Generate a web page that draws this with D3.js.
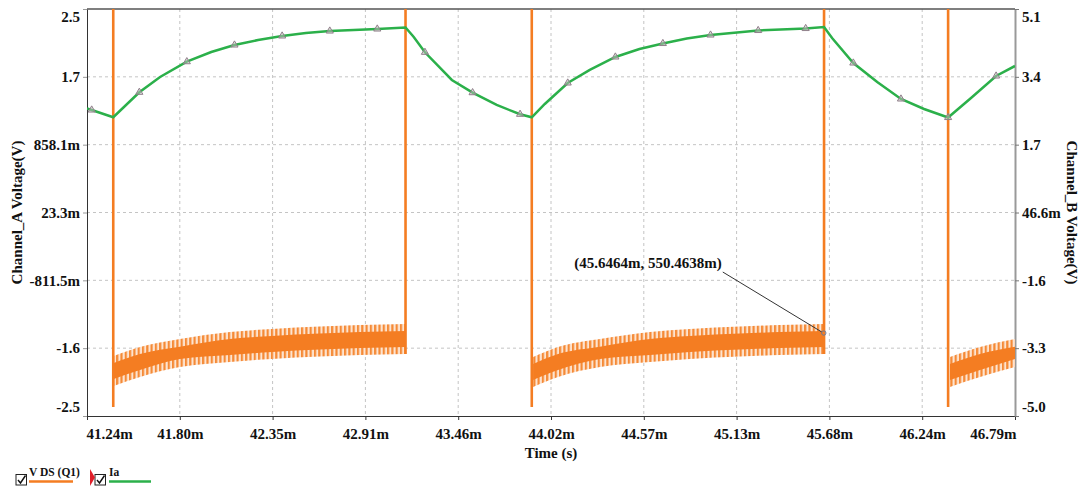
<!DOCTYPE html>
<html>
<head>
<meta charset="utf-8">
<script src="https://cdn.jsdelivr.net/npm/d3@7/dist/d3.min.js"></script>
<style>
body { margin: 0; background: #fff; }
text { font-family: "Liberation Serif", "Times New Roman", serif; font-weight: bold; fill: #111; }
</style>
</head>
<body>
<svg id="chart" width="1083" height="490"></svg>
<script>
// time axis, in ms
var xTicks = [41.24, 41.795, 42.35, 42.905, 43.46, 44.015, 44.57, 45.125, 45.68, 46.235, 46.79];
var xLabels = ["41.24m", "41.80m", "42.35m", "42.91m", "43.46m", "44.02m", "44.57m", "45.13m", "45.68m", "46.24m", "46.79m"];

// Channel_A (left)
var aTicks = [2.5277, 1.6929, 0.8581, 0.0233, -0.8115, -1.6463, -2.4811];
var aLabels = ["2.5", "1.7", "858.1m", "23.3m", "-811.5m", "-1.6", "-2.5"];

// Channel_B (right)
var bTicks = [5.087, 3.407, 1.727, 0.0466, -1.633, -3.313, -4.993];
var bLabels = ["5.1", "3.4", "1.7", "46.6m", "-1.6", "-3.3", "-5.0"];

// Ia, on Channel_B
var iaTime = [41.24, 41.268, 41.397, 41.553, 41.677, 41.837, 41.983, 42.122, 42.263, 42.407, 42.549, 42.692,
    42.835, 42.976, 43.145, 43.193, 43.261, 43.422, 43.546, 43.690, 43.830, 43.900, 43.978, 44.115, 44.247,
    44.400, 44.544, 44.684, 44.827, 44.969, 45.254, 45.538, 45.648, 45.696, 45.823, 45.966, 46.108, 46.246,
    46.390, 46.527, 46.677, 46.79];
var iaValue = [2.623, 2.586, 2.406, 3.025, 3.403, 3.782, 4.022, 4.196, 4.319, 4.419, 4.493, 4.542,
    4.567, 4.592, 4.629, 4.401, 4.015, 3.329, 3.015, 2.710, 2.480, 2.406, 2.735, 3.255, 3.577,
    3.899, 4.097, 4.233, 4.357, 4.443, 4.555, 4.604, 4.641, 4.369, 3.750, 3.280, 2.859, 2.611,
    2.400, 2.883, 3.428, 3.676];
var iaMarkTime = [41.268, 41.553, 41.837, 42.122, 42.407, 42.692, 42.976, 43.261, 43.546, 43.830, 44.115,
    44.400, 44.684, 44.969, 45.254, 45.538, 45.823, 46.108, 46.390, 46.677];

// V DS (Q1), on Channel_A: switching edges and the ringing band (outer tips + dense core)
var vdsOff = 2.8;
var vdsEdgeTime = [41.397, 43.145, 43.900, 45.648, 46.390];
var vdsEdgeLow = [-2.37, -1.718, -2.37, -1.718, -2.37];

var vdsT1 = [41.400, 41.557, 41.796, 42.095, 42.346, 42.633, 42.873, 43.145];
var vdsHi1 = [-1.743, -1.632, -1.534, -1.447, -1.410, -1.380, -1.362, -1.349];
var vdsLo1 = [-2.112, -2.001, -1.879, -1.816, -1.779, -1.749, -1.731, -1.718];
var vdsCoreHi1 = [-1.829, -1.718, -1.628, -1.533, -1.496, -1.466, -1.448, -1.435];
var vdsCoreLo1 = [-2.026, -1.915, -1.780, -1.730, -1.693, -1.663, -1.645, -1.632];

var vdsT2 = [43.908, 44.057, 44.308, 44.607, 44.846, 45.145, 45.384, 45.648];
var vdsHi2 = [-1.755, -1.632, -1.534, -1.447, -1.410, -1.380, -1.362, -1.349];
var vdsLo2 = [-2.124, -2.001, -1.879, -1.816, -1.779, -1.749, -1.731, -1.718];
var vdsCoreHi2 = [-1.841, -1.718, -1.628, -1.533, -1.496, -1.466, -1.448, -1.435];
var vdsCoreLo2 = [-2.038, -1.915, -1.780, -1.730, -1.693, -1.663, -1.645, -1.632];

var vdsT3 = [46.401, 46.581, 46.79];
var vdsHi3 = [-1.755, -1.632, -1.534];
var vdsLo3 = [-2.124, -2.001, -1.879];
var vdsCoreHi3 = [-1.841, -1.718, -1.628];
var vdsCoreLo3 = [-2.038, -1.915, -1.780];

var cursorTime = 45.6464, cursorValue = -1.46, cursorText = "(45.6464m, 550.4638m)";

var orange = "#f47d22", green = "#2bb04a";
var fs = 15;

var svg = d3.select("#chart");
var plotL = 87, plotR = 1015, plotT = 9, plotB = 416;

var x = d3.scaleLinear().domain([41.24, 46.79]).range([plotL, plotR]);
var yA = d3.scaleLinear().domain([-2.4811, 2.5277]).range([plotB, plotT]);
var yB = d3.scaleLinear().domain([-4.993, 5.087]).range([plotB, plotT]);

var defs = svg.append("defs");
defs.append("clipPath").attr("id", "plot")
    .append("rect").attr("x", plotL).attr("y", plotT).attr("width", plotR - plotL).attr("height", plotB - plotT);

var pat = defs.append("pattern").attr("id", "ring")
    .attr("patternUnits", "userSpaceOnUse").attr("width", 4.3).attr("height", 20);
pat.append("rect").attr("width", 4.3).attr("height", 20).attr("fill", "#fde4d0");
pat.append("rect").attr("width", 2.2).attr("height", 20).attr("fill", "#f58a36");

// grid
svg.append("g").selectAll("line")
    .data(xTicks.slice(1, -1))
    .enter().append("line")
    .attr("x1", function(d) { return x(d); }).attr("x2", function(d) { return x(d); })
    .attr("y1", plotT).attr("y2", plotB)
    .attr("stroke", "#c4c4c4").attr("stroke-dasharray", "3,3");

svg.append("g").selectAll("line")
    .data(aTicks.slice(1, -1))
    .enter().append("line")
    .attr("x1", plotL).attr("x2", plotR)
    .attr("y1", function(d) { return yA(d); }).attr("y2", function(d) { return yA(d); })
    .attr("stroke", "#c4c4c4").attr("stroke-dasharray", "3,3");

// axes
function styleAxis(g) {
    g.attr("font-family", null).attr("font-size", fs).attr("font-weight", "bold");
}

var gx = svg.append("g")
    .attr("transform", "translate(0," + plotB + ")")
    .call(d3.axisBottom(x).tickValues(xTicks).tickSizeInner(4).tickSizeOuter(0).tickPadding(8)
        .tickFormat(function(d, i) { return xLabels[i]; }))
    .call(styleAxis);
gx.select(".domain").attr("stroke", "#333");
gx.selectAll(".tick line").attr("stroke", "#333");
gx.selectAll(".tick text").attr("text-anchor", function(d, i) {
    return i == 0 ? "start" : (i == xTicks.length - 1 ? "end" : "middle");
}).attr("x", function(d, i) { return i == 0 ? -1 : (i == xTicks.length - 1 ? 1 : 0); });

var ga = svg.append("g")
    .attr("transform", "translate(" + plotL + ",0)")
    .call(d3.axisLeft(yA).tickValues(aTicks).tickSizeInner(4).tickSizeOuter(0).tickPadding(3)
        .tickFormat(function(d, i) { return aLabels[i]; }))
    .call(styleAxis);
ga.select(".domain").attr("stroke", "#333");
ga.selectAll(".tick line").attr("stroke", "#999");

var gb = svg.append("g")
    .attr("transform", "translate(" + plotR + ",0)")
    .call(d3.axisRight(yB).tickValues(bTicks).tickSizeInner(4).tickSizeOuter(0).tickPadding(3)
        .tickFormat(function(d, i) { return bLabels[i]; }))
    .call(styleAxis);
gb.select(".domain").attr("stroke", "#999").attr("stroke-width", 2);
gb.selectAll(".tick line").attr("stroke", "#777");

[ga, gb].forEach(function(g) {
    g.selectAll(".tick text").attr("y", function(d, i) { return i == 0 ? 8 : (i == 6 ? -9 : 0); });
});

// top border
svg.append("line").attr("x1", plotL).attr("x2", plotR).attr("y1", plotT).attr("y2", plotT)
    .attr("stroke", "#555").attr("stroke-width", 1.5);

// V DS (Q1)
var plot = svg.append("g").attr("clip-path", "url(#plot)");

var bands = [
    { t: vdsT1, hi: vdsHi1, lo: vdsLo1, chi: vdsCoreHi1, clo: vdsCoreLo1 },
    { t: vdsT2, hi: vdsHi2, lo: vdsLo2, chi: vdsCoreHi2, clo: vdsCoreLo2 },
    { t: vdsT3, hi: vdsHi3, lo: vdsLo3, chi: vdsCoreHi3, clo: vdsCoreLo3 }
];

bands.forEach(function(b) {
    var outer = d3.area().curve(d3.curveMonotoneX)
        .x(function(d, i) { return x(b.t[i]); })
        .y0(function(d, i) { return yA(b.lo[i]); })
        .y1(function(d, i) { return yA(b.hi[i]); });
    var core = d3.area().curve(d3.curveMonotoneX)
        .x(function(d, i) { return x(b.t[i]); })
        .y0(function(d, i) { return yA(b.clo[i]); })
        .y1(function(d, i) { return yA(b.chi[i]); });
    plot.append("path").attr("d", outer(b.t)).attr("fill", "url(#ring)");
    plot.append("path").attr("d", core(b.t)).attr("fill", orange);
});

plot.selectAll(".edge")
    .data(vdsEdgeTime)
    .enter().append("line")
    .attr("class", "edge")
    .attr("x1", function(d) { return x(d); }).attr("x2", function(d) { return x(d); })
    .attr("y1", yA(vdsOff))
    .attr("y2", function(d, i) { return yA(vdsEdgeLow[i]); })
    .attr("stroke", orange).attr("stroke-width", 2.6);

// Ia
var iaLine = d3.line()
    .x(function(d, i) { return x(iaTime[i]); })
    .y(function(d, i) { return yB(iaValue[i]); });

plot.append("path")
    .attr("d", iaLine(iaTime))
    .attr("fill", "none").attr("stroke", green).attr("stroke-width", 2.5);

var tri = d3.symbol().type(d3.symbolTriangle).size(22);
plot.selectAll(".mark")
    .data(iaMarkTime)
    .enter().append("path")
    .attr("class", "mark")
    .attr("d", tri)
    .attr("transform", function(d) {
        var i = iaTime.indexOf(d);
        return "translate(" + x(d) + "," + yB(iaValue[i]) + ")";
    })
    .attr("fill", "#c8b9c0").attr("fill-opacity", 0.5)
    .attr("stroke", "#8f7f8a").attr("stroke-width", 1);

// cursor readout
var cx = x(cursorTime), cy = yA(cursorValue);
svg.append("line")
    .attr("x1", cx - 101).attr("y1", cy - 61).attr("x2", cx - 2).attr("y2", cy - 1)
    .attr("stroke", "#333").attr("stroke-width", 1);
svg.append("circle").attr("cx", cx).attr("cy", cy).attr("r", 2.2)
    .attr("fill", "none").attr("stroke", "#6b7a99").attr("stroke-width", 1);
svg.append("text")
    .attr("x", cx - 102).attr("y", cy - 65)
    .attr("text-anchor", "end").attr("font-size", fs)
    .text(cursorText);

// titles
svg.append("text")
    .attr("transform", "translate(22," + ((plotT + plotB) / 2) + ") rotate(-90)")
    .attr("text-anchor", "middle").attr("font-size", fs)
    .text("Channel_A Voltage(V)");
svg.append("text")
    .attr("transform", "translate(1067," + ((plotT + plotB) / 2) + ") rotate(90)")
    .attr("text-anchor", "middle").attr("font-size", fs)
    .text("Channel_B Voltage(V)");
svg.append("text")
    .attr("x", (plotL + plotR) / 2).attr("y", 458)
    .attr("text-anchor", "middle").attr("font-size", fs)
    .text("Time (s)");

// legend
var legend = [
    { name: "V DS (Q1)", color: orange, bx: 16, tx: 29, w: 44 },
    { name: "Ia", color: green, bx: 95, tx: 109, w: 42 }
];
var lg = svg.append("g").selectAll("g")
    .data(legend)
    .enter().append("g");
lg.append("rect")
    .attr("x", function(d) { return d.bx; }).attr("y", 474.5)
    .attr("width", 10.5).attr("height", 10.5)
    .attr("fill", "#fff").attr("stroke", "#222").attr("stroke-width", 1);
lg.append("path")
    .attr("d", function(d) {
        return "M" + (d.bx + 2) + ",480 L" + (d.bx + 4.5) + ",483 L" + (d.bx + 9.5) + ",475.5";
    })
    .attr("fill", "none").attr("stroke", "#111").attr("stroke-width", 1.4);
lg.append("text")
    .attr("x", function(d) { return d.tx; }).attr("y", 476)
    .attr("font-size", 11.5)
    .text(function(d) { return d.name; });
lg.append("line")
    .attr("x1", function(d) { return d.tx; }).attr("x2", function(d) { return d.tx + d.w; })
    .attr("y1", 481.5).attr("y2", 481.5)
    .attr("stroke", function(d) { return d.color; }).attr("stroke-width", 2.5);

svg.append("path")
    .attr("d", "M90,469 L90,486 L95,477.5 Z")
    .attr("fill", "#e0202a");
</script>
</body>
</html>
